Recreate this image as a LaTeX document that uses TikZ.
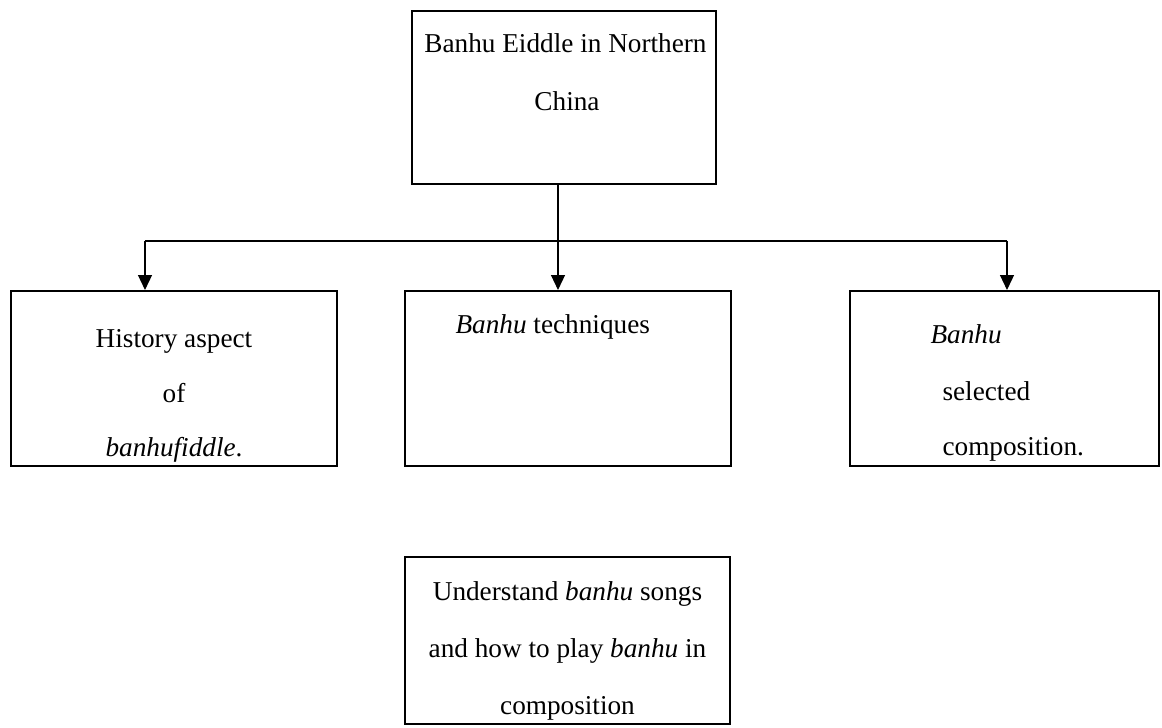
\documentclass[tikz,border=0pt]{standalone}
\usepackage{fontspec}
\setmainfont{Liberation Serif}
\usetikzlibrary{arrows.meta,positioning,calc}

\begin{document}
\begin{tikzpicture}[line width=0.6pt, >={Triangle[length=8.5pt,width=8pt]},
  boxed/.style={draw, line width=1.2pt, inner sep=0pt},
  lbl/.style={font=\fontsize{15.5pt}{19pt}\selectfont, inner sep=0pt, anchor=base}]
  \useasboundingbox (0,0) rectangle (23.24,14.54);
  % boxes
  \node[boxed, minimum width=6.08cm, minimum height=3.46cm] (top)  at (11.28,12.59) {};
  \node[boxed, minimum width=6.52cm, minimum height=3.50cm] (hist) at (3.48,6.97) {};
  \node[boxed, minimum width=6.52cm, minimum height=3.50cm] (tech) at (11.36,6.97) {};
  \node[boxed, minimum width=6.18cm, minimum height=3.50cm] (comp) at (20.09,6.97) {};
  \node[boxed, minimum width=6.50cm, minimum height=3.34cm] (play) at (11.35,1.73) {};
  % texts
  \node[lbl] (top1) at (11.31,13.48) {Banhu Eiddle in Northern};
  \node[lbl] (top2) at (11.34,12.32) {China};
  \node[lbl] (hist1) at (3.48,7.60) {History aspect};
  \node[lbl] (hist2) at (3.48,6.50) {of};
  \node[lbl] (hist3) at (3.48,5.42) {\textit{banhufiddle}.};
  \node[lbl, anchor=base west] (tech1) at (9.10,7.88) {\textit{Banhu} techniques};
  \node[lbl, anchor=base west] (comp1) at (18.60,7.68) {\textit{Banhu}};
  \node[lbl, anchor=base west] (comp2) at (18.84,6.54) {selected};
  \node[lbl, anchor=base west] (comp3) at (18.84,5.44) {composition.};
  \node[lbl] (play1) at (11.35,2.54) {Understand \textit{banhu} songs};
  \node[lbl] (play2) at (11.35,1.40) {and how to play \textit{banhu} in};
  \node[lbl] (play3) at (11.35,0.26) {composition};
  % connectors
  \coordinate (split) at (11.16,9.72);
  \coordinate (lt) at (2.90,9.72);
  \coordinate (rt) at (20.14,9.72);
  \draw (split |- top.south) -- (split);
  \draw (lt) -- (rt);
  \draw[->] (lt) -- (lt |- hist.north);
  \draw[->] (split) -- (split |- tech.north);
  \draw[->] (rt) -- (rt |- comp.north);
\end{tikzpicture}
\end{document}
